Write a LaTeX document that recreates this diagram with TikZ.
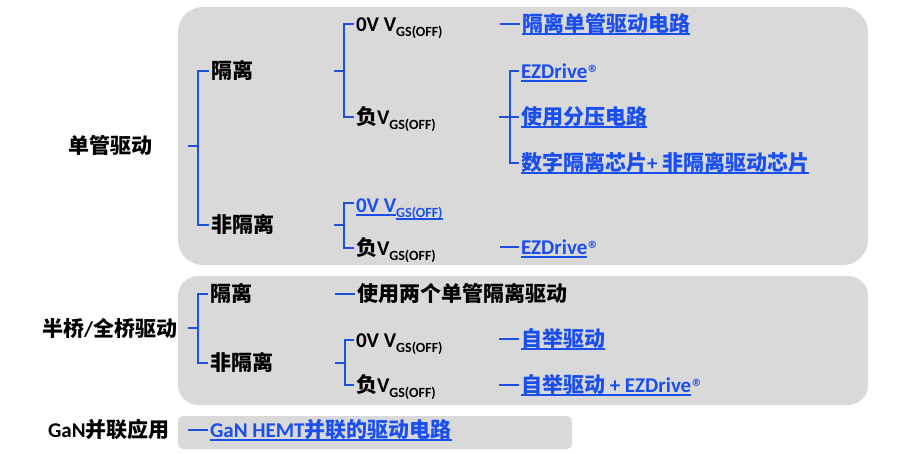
\documentclass[tikz,border=0pt]{standalone}
\usepackage{fontspec}
\setmainfont{Carlito}
\newfontfamily\cjk{Noto Sans CJK SC}
\newfontfamily\djv{DejaVu Sans}
\definecolor{boxgray}{HTML}{D9D9D9}
\definecolor{lineblue}{HTML}{2050E0}
\definecolor{linkblue}{HTML}{1A4FEE}
\newcommand\C[1]{{\cjk #1}}
\newcommand\Sb[1]{\raisebox{-5.5pt}{\fontsize{14}{14}\selectfont #1}}
\newcommand\Reg{\raisebox{6pt}{\djv\fontsize{10}{10}\selectfont ®}}
\newsavebox\ulbox
\newcommand\Ul[2][3.5pt]{\sbox\ulbox{#2}\rlap{\rule[-#1]{\wd\ulbox}{1.2pt}}\usebox\ulbox}
\tikzset{
  conn/.style={draw=lineblue, line width=1.3pt},
  lbl/.style={anchor=base west, inner sep=0pt, outer sep=0pt, font=\fontsize{21}{25}\selectfont\bfseries},
  lnk/.style={lbl, text=linkblue},
  panel/.style={fill=boxgray, draw=none}
}
\begin{document}
\begin{tikzpicture}[x=1pt,y=-1pt]
\useasboundingbox (0,0) rectangle (903,453);
% panels
\fill[panel, rounded corners=25pt] (178,7) rectangle (868,265);
\fill[panel, rounded corners=20pt] (178,276) rectangle (868,405);
\fill[panel, rounded corners=5pt] (178,416) rectangle (572,449);

% ---------- group 1
\node[lbl] (dgqd) at (68,153) {\C{单管驱动}};
\node[lbl] (geli1) at (211,78) {\C{隔离}};
\node[lbl] (fgl1) at (211,232) {\C{非隔离}};
\node[lbl] (v0a) at (356,31) {0V V\Sb{GS(OFF)}};
\node[lbl] (vna) at (356,124) {\C{负}V\Sb{GS(OFF)}};
\node[lnk] (l1) at (522,31) {\Ul{\C{隔离单管驱动电路}}};
\node[lnk] (ez1) at (521,78) {\Ul{EZDrive}\Reg};
\node[lnk] (fy) at (521,124) {\Ul{\C{使用分压电路}}};
\node[lnk] (sz) at (521,170) {\Ul{\C{数字隔离芯片}+ \C{非隔离驱动芯片}}};
\node[lnk] (v0b) at (356,212) {\Ul{0V V}\Sb{\Ul[2pt]{GS(OFF)}}};
\node[lbl] (vnb) at (356,255) {\C{负}V\Sb{GS(OFF)}};
\node[lnk] (ez2) at (521,254) {\Ul{EZDrive}\Reg};

\coordinate (s1) at (188,146);
\draw[conn] (s1) -- ++(10,0) coordinate (j1);
\draw[conn] (j1) |- ([xshift=-2pt,yshift=7pt]geli1.base west);
\draw[conn] (j1) |- ([xshift=-2pt,yshift=7pt]fgl1.base west);

\coordinate (s2) at (334,71);
\draw[conn] (s2) -- ++(10,0) coordinate (j2);
\draw[conn] (j2) |- ([xshift=-2pt,yshift=7pt]v0a.base west);
\draw[conn] (j2) |- ([xshift=-2pt,yshift=7pt]vna.base west);

\coordinate (s3) at (499,117);
\draw[conn] (s3) -- ++(11,0) coordinate (j3);
\draw[conn] (j3) |- ([xshift=-2pt,yshift=7pt]ez1.base west);
\draw[conn] (j3) -- ([xshift=-2pt,yshift=7pt]fy.base west);
\draw[conn] (j3) |- ([xshift=-2pt,yshift=7pt]sz.base west);

\coordinate (s4) at (334,225);
\draw[conn] (s4) -- ++(10,0) coordinate (j4);
\draw[conn] (j4) |- ([xshift=-2pt,yshift=9pt]v0b.base west);
\draw[conn] (j4) |- ([xshift=-2pt,yshift=7pt]vnb.base west);

\coordinate (d1) at (500,24);
\draw[conn] (d1) -- ([xshift=-2pt,yshift=7pt]l1.base west);
\coordinate (d2) at (500,247);
\draw[conn] (d2) -- ([xshift=-2pt,yshift=7pt]ez2.base west);

% ---------- group 2
\node[lbl] (bq) at (42,336) {\C{半桥}/\C{全桥驱动}};
\node[lbl] (geli2) at (210,301) {\C{隔离}};
\node[lbl] (fgl2) at (210,370) {\C{非隔离}};
\node[lbl] (sl) at (357,301) {\C{使用两个单管隔离驱动}};
\node[lbl] (v0c) at (356,347) {0V V\Sb{GS(OFF)}};
\node[lbl] (vnc) at (356,392) {\C{负}V\Sb{GS(OFF)}};
\node[lnk] (zj) at (521,346) {\Ul{\C{自举驱动}}};
\node[lnk] (zje) at (521,392) {\Ul{\C{自举驱动} + EZDrive}\Reg};

\coordinate (s5) at (188,328);
\draw[conn] (s5) -- ++(10,0) coordinate (j5);
\draw[conn] (j5) |- ([xshift=-2pt,yshift=7pt]geli2.base west);
\draw[conn] (j5) |- ([xshift=-2pt,yshift=7pt]fgl2.base west);

\coordinate (d3) at (335,294);
\draw[conn] (d3) -- ([xshift=-2pt,yshift=7pt]sl.base west);

\coordinate (s6) at (335,363);
\draw[conn] (s6) -- ++(10,0) coordinate (j6);
\draw[conn] (j6) |- ([xshift=-2pt,yshift=7pt]v0c.base west);
\draw[conn] (j6) |- ([xshift=-2pt,yshift=7pt]vnc.base west);

\coordinate (d4) at (499,339);
\draw[conn] (d4) -- ([xshift=-2pt,yshift=7pt]zj.base west);
\coordinate (d5) at (499,385);
\draw[conn] (d5) -- ([xshift=-2pt,yshift=7pt]zje.base west);

% ---------- group 3
\node[lbl] (gan) at (48,437) {GaN\C{并联应用}};
\node[lnk] (gh) at (210,437) {\Ul{GaN HEMT\C{并联的驱动电路}}};
\coordinate (d6) at (188,430);
\draw[conn] (d6) -- ([xshift=-2pt,yshift=7pt]gh.base west);
\end{tikzpicture}
\end{document}
